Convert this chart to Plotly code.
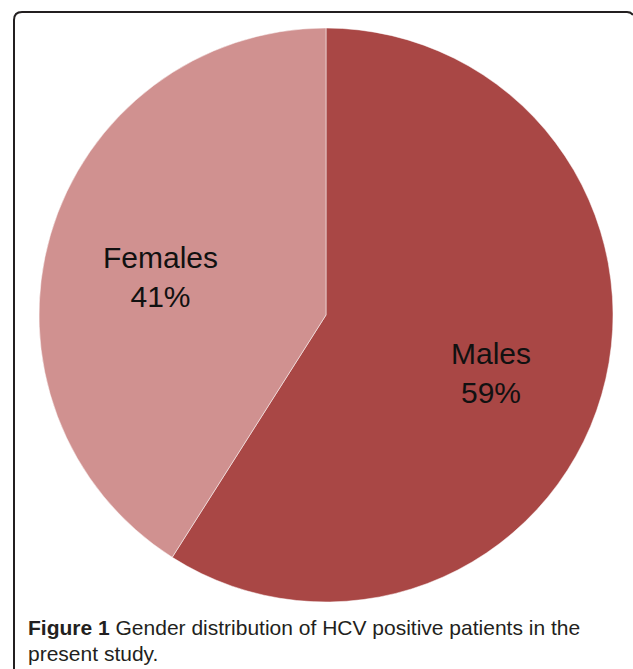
import math
import plotly.graph_objects as go

labels = ["Males", "Females"]
values = [59, 41]
colors = ["#A94745", "#D09190"]

W, H = 633, 669

def px(x):
    return x / W

def py(y):
    return 1 - y / H

# pie geometry (pixels)
CX, CY, R = 326, 315, 287

fig = go.Figure(go.Pie(
    labels=labels,
    values=values,
    sort=False,
    direction="clockwise",
    rotation=0,
    marker=dict(colors=colors, line=dict(color="white", width=0.5)),
    textinfo="none",
    domain=dict(x=[px(CX - R), px(CX + R)], y=[py(CY + R), py(CY - R)]),
    showlegend=False,
    hoverinfo="label+percent",
))

# slice labels placed at each slice's mid-angle
total = sum(values)
lab_font = dict(family="Liberation Sans, Arial, sans-serif", size=30, color="#111111")
start = 0.0
for lab, v in zip(labels, values):
    frac = v / total
    mid = (start + frac / 2) * 2 * math.pi
    start += frac
    lx = CX + 0.6 * R * math.sin(mid)
    ly = CY - 0.6 * R * math.cos(mid) + 10
    fig.add_annotation(x=px(lx), y=py(ly), xref="paper", yref="paper",
                       xanchor="center", yanchor="middle", showarrow=False,
                       text=f"{lab}<br>{round(frac * 100)}%", font=lab_font)

# Border frame (rounded corner at top-left)
path = (f"M {px(14)},{py(669)} L {px(14)},{py(20)} "
        f"Q {px(14)},{py(12)} {px(22)},{py(12)} "
        f"L {px(627)},{py(12)} Q {px(631)},{py(12)} {px(633)},{py(15)}")
fig.add_shape(type="path", path=path, xref="paper", yref="paper",
              line=dict(color="#231f20", width=2))

cap_font = dict(family="Liberation Sans, Arial, sans-serif", size=21, color="#231f20")
fig.add_annotation(x=px(26), y=py(627), xref="paper", yref="paper",
                   xanchor="left", yanchor="middle", showarrow=False,
                   text="<b>Figure 1</b> Gender distribution of HCV positive patients in the",
                   font=cap_font)
fig.add_annotation(x=px(26), y=py(653), xref="paper", yref="paper",
                   xanchor="left", yanchor="middle", showarrow=False,
                   text="present study.", font=cap_font)

fig.update_layout(
    width=W, height=H,
    margin=dict(l=0, r=0, t=0, b=0),
    paper_bgcolor="white",
    plot_bgcolor="white",
)

fig.write_html("out.html", config={"displayModeBar": False},
               post_script="document.body.style.margin='0px';")
